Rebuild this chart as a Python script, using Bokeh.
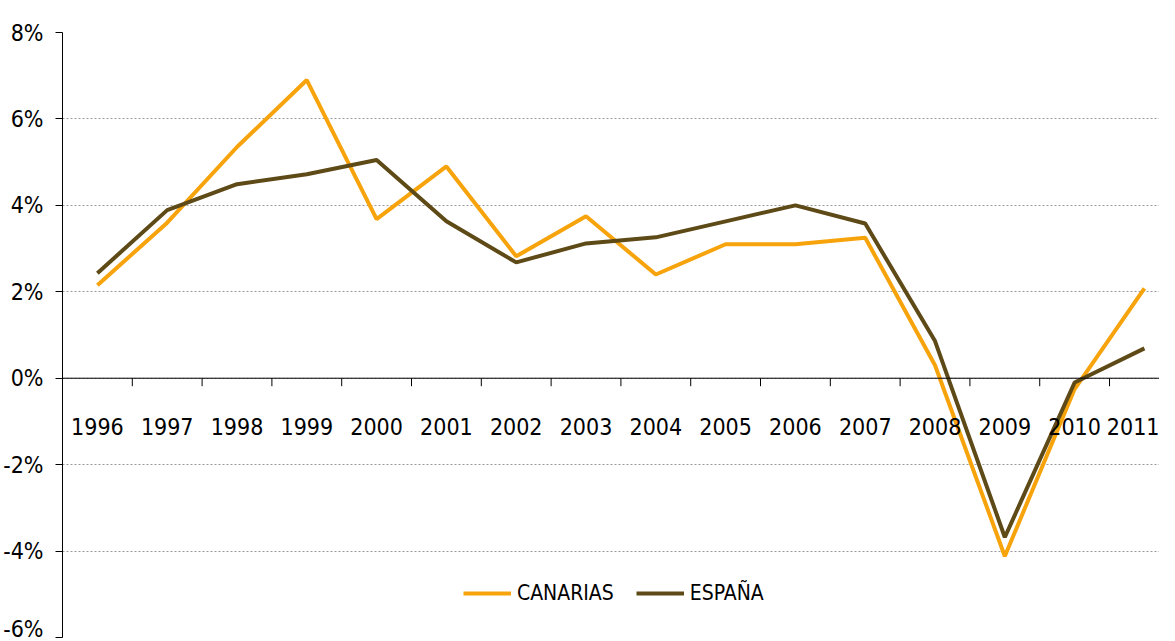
from bokeh.plotting import figure
from bokeh.models import Range1d, LinearAxis, FixedTicker, Legend, LegendItem, Span
from bokeh.embed import file_html
from bokeh.resources import INLINE

years = ["1996", "1997", "1998", "1999", "2000", "2001", "2002", "2003",
         "2004", "2005", "2006", "2007", "2008", "2009", "2010", "2011"]
canarias = [2.15, 3.6, 5.35, 6.9, 3.68, 4.9, 2.82, 3.75,
            2.4, 3.1, 3.1, 3.25, 0.3, -4.12, -0.25, 2.08]
espana = [2.43, 3.89, 4.49, 4.72, 5.05, 3.63, 2.68, 3.12,
          3.26, 3.63, 4.0, 3.58, 0.86, -3.68, -0.1, 0.69]
y_ticks = [-6, -4, -2, 0, 2, 4, 6, 8]

FONT = "DejaVu Sans Condensed"
ORANGE = "#F7A30C"
BROWN = "#5E4A17"

H = 641
TOP = 32
BOTTOM = 4
FRAME_H = H - TOP - BOTTOM
Y0, Y1 = -6, 8
px = (Y1 - Y0) / FRAME_H  # data units per pixel

xs = list(range(len(years)))
bounds = [i + 0.5 for i in xs]

p = figure(width=1159, height=H, output_backend="svg", toolbar_location=None,
           x_range=Range1d(-0.5, 15.216), y_range=Range1d(Y0, Y1),
           x_axis_location=None, min_border_left=51, min_border_top=TOP,
           min_border_right=0, min_border_bottom=BOTTOM)
p.outline_line_color = None
p.background_fill_color = "white"
p.border_fill_color = "white"

yaxis = p.yaxis[0]
yaxis.ticker = FixedTicker(ticks=y_ticks)
yaxis.major_label_overrides = {t: f"{t}%" for t in y_ticks}
yaxis.major_label_text_font = FONT
yaxis.major_label_text_font_size = "23px"
yaxis.major_label_text_color = "black"
yaxis.major_tick_out = 7
yaxis.major_tick_in = 0
yaxis.minor_tick_line_color = None
yaxis.axis_line_color = "black"
yaxis.major_tick_line_color = "black"
yaxis.major_label_standoff = 12

p.xgrid.visible = False
p.ygrid.ticker = FixedTicker(ticks=y_ticks)
p.ygrid.grid_line_color = "#999999"
p.ygrid.grid_line_dash = "2 2"
p.ygrid.grid_line_width = 1

# zero line with ticks at category boundaries
p.add_layout(Span(location=0, dimension="width", line_color="black", line_width=1))
p.segment(x0=bounds, y0=[0] * len(bounds), x1=bounds, y1=[-8 * px] * len(bounds),
          line_color="black", line_width=1)

# category labels
laxis = LinearAxis(fixed_location=0, ticker=FixedTicker(ticks=xs),
                   major_label_overrides={i: y for i, y in enumerate(years)},
                   major_label_text_font=FONT, major_label_text_font_size="23px",
                   major_label_text_color="black",
                   major_label_standoff=34, major_tick_line_color=None,
                   minor_tick_line_color=None, axis_line_color=None)
p.add_layout(laxis, "below")

r1 = p.line(xs, canarias, line_color=ORANGE, line_width=4)
r2 = p.line(xs, espana, line_color=BROWN, line_width=4)

legend = Legend(items=[LegendItem(label="CANARIAS", renderers=[r1]),
                       LegendItem(label="ESPAÑA", renderers=[r2])],
                orientation="horizontal", location=(401, 32),
                label_text_font=FONT, label_text_font_size="21px",
                label_text_color="black",
                glyph_width=48, glyph_height=20, label_height=20,
                label_standoff=6, spacing=22, padding=0, margin=0,
                border_line_alpha=0, background_fill_alpha=0)
p.add_layout(legend, "center")

open("out.html", "w").write(file_html(p, INLINE))
